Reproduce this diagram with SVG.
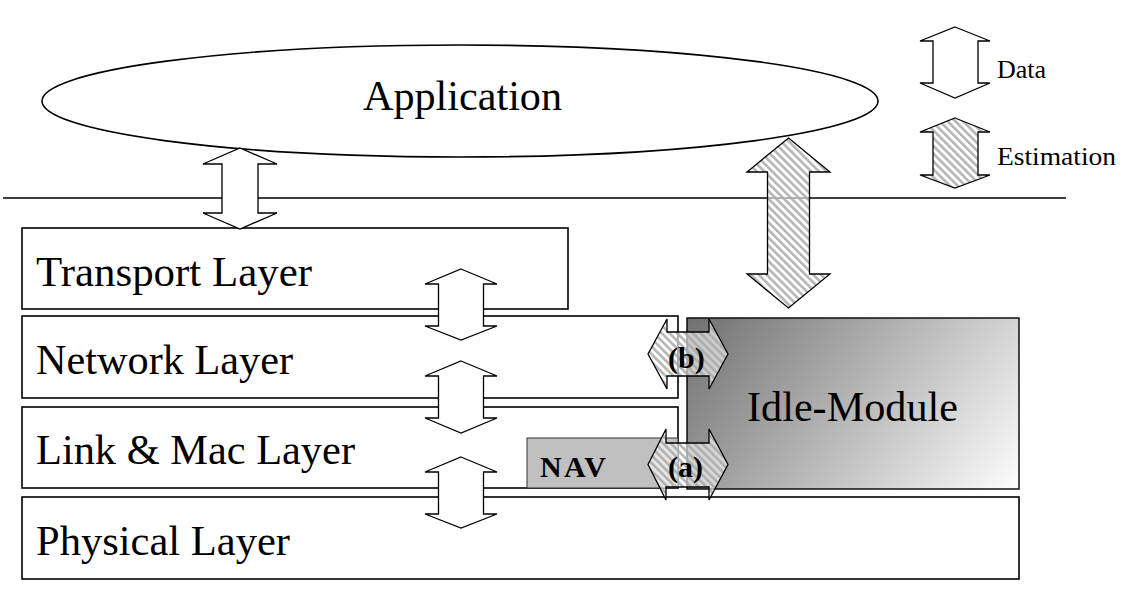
<svg xmlns="http://www.w3.org/2000/svg" width="1128" height="600" viewBox="0 0 1128 600">
  <defs>
    <pattern id="hatch" patternUnits="userSpaceOnUse" width="5.5" height="5.5" patternTransform="rotate(-45)">
      <rect x="0" y="0" width="5.5" height="5.5" fill="#ffffff" fill-opacity="0.6"/>
      <rect x="0" y="0" width="2.6" height="5.5" fill="#a8a8a8" fill-opacity="0.85"/>
    </pattern>
    <linearGradient id="idleGrad" gradientUnits="userSpaceOnUse" x1="687" y1="318" x2="972" y2="538">
      <stop offset="0" stop-color="#707070"/>
      <stop offset="1" stop-color="#fafafa"/>
    </linearGradient>
  </defs>
  <style>
    .box { fill: #ffffff; stroke: #000000; stroke-width: 1.6; }
    .line { stroke: #000000; stroke-width: 1.6; fill: none; }
    .data { fill: #ffffff; stroke: #000000; stroke-width: 1.3; stroke-linejoin: miter; }
    .est { fill: url(#hatch); stroke: #000000; stroke-width: 1.3; }
    .lbl { font-family: "Liberation Serif", "Times New Roman", serif; font-size: 42px; fill: #000000; }
    .bold { font-family: "Liberation Serif", "Times New Roman", serif; font-size: 30px; font-weight: bold; fill: #000000; }
    .leg { font-family: "Liberation Serif", "Times New Roman", serif; font-size: 26px; fill: #000000; }
  </style>
  <rect width="1128" height="600" fill="#ffffff"/>

  <g id="application">
    <ellipse cx="460" cy="101" rx="418" ry="56" class="box" stroke-width="1.3"/>
    <text x="363" y="110" class="lbl" textLength="199" lengthAdjust="spacingAndGlyphs">Application</text>
  </g>

  <g id="boundary">
    <line x1="3" y1="198" x2="1066" y2="198" class="line" stroke-width="1.4"/>
  </g>

  <g id="transport">
    <rect x="22" y="228" width="546" height="81" class="box"/>
    <text x="36" y="286" class="lbl" textLength="276" lengthAdjust="spacingAndGlyphs">Transport Layer</text>
  </g>
  <g id="network">
    <rect x="22" y="316" width="656" height="82" class="box"/>
    <text x="36" y="374" class="lbl" textLength="257" lengthAdjust="spacingAndGlyphs">Network Layer</text>
  </g>
  <g id="link">
    <rect x="22" y="407" width="656" height="81" class="box"/>
    <text x="36" y="464" class="lbl" textLength="319" lengthAdjust="spacingAndGlyphs">Link &amp; Mac Layer</text>
  </g>
  <g id="physical">
    <rect x="22" y="497" width="997" height="82" class="box"/>
    <text x="36" y="555" class="lbl" textLength="254" lengthAdjust="spacingAndGlyphs">Physical Layer</text>
  </g>
  <g id="idle-module">
    <rect x="687" y="318" width="332" height="171" fill="url(#idleGrad)" stroke="#000000" stroke-width="1.4"/>
    <text x="747" y="421" class="lbl" textLength="211" lengthAdjust="spacingAndGlyphs">Idle-Module</text>
  </g>
  <g id="nav">
    <rect x="527" y="438" width="151" height="50" fill="#c0c0c0" stroke="#333333" stroke-width="1"/>
    <text x="540" y="477" class="bold" textLength="66" lengthAdjust="spacing">NAV</text>
  </g>

  <g id="connectors">
    <polygon class="data" points="240,148 277,164 258,164 258,213 277,213 240,229 203,213 222,213 222,164 203,164"/>
    <polygon class="data" points="461,269 497,284 483.5,284 483.5,326 497,326 461,340 425,326 438.5,326 438.5,284 425,284"/>
    <polygon class="data" points="461,361 497,376 483.5,376 483.5,418 497,418 461,433 425,418 438.5,418 438.5,376 425,376"/>
    <polygon class="data" points="461,457 497,472 483.5,472 483.5,514 497,514 461,528 425,514 438.5,514 438.5,472 425,472"/>
    <polygon class="est" points="788.5,138 830,172 809.5,172 809.5,274 830,274 788.5,308 747,274 767.5,274 767.5,172 747,172"/>
    <polygon class="est" points="648,354 667,319 667,332 709,332 709,319 728,354 709,389 709,376 667,376 667,389"/>
    <polygon class="est" points="648,464.5 666,429 666,443 709,443 709,429 728,464.5 709,500 709,487 666,487 666,500"/>
  </g>

  <g id="labels-ab">
    <text x="668" y="368" class="bold">(b)</text>
    <text x="668" y="477" class="bold">(a)</text>
  </g>

  <g id="legend">
    <polygon class="data" points="955,27 990,41 978,41 978,83 990,83 955,98 920,83 933,83 933,41 920,41"/>
    <text x="997" y="78" class="leg">Data</text>
    <polygon class="est" points="955,118 990,132 978,132 978,175 990,175 955,188 920,175 933,175 933,132 920,132"/>
    <text x="997" y="165" class="leg" textLength="119" lengthAdjust="spacingAndGlyphs">Estimation</text>
  </g>
</svg>
